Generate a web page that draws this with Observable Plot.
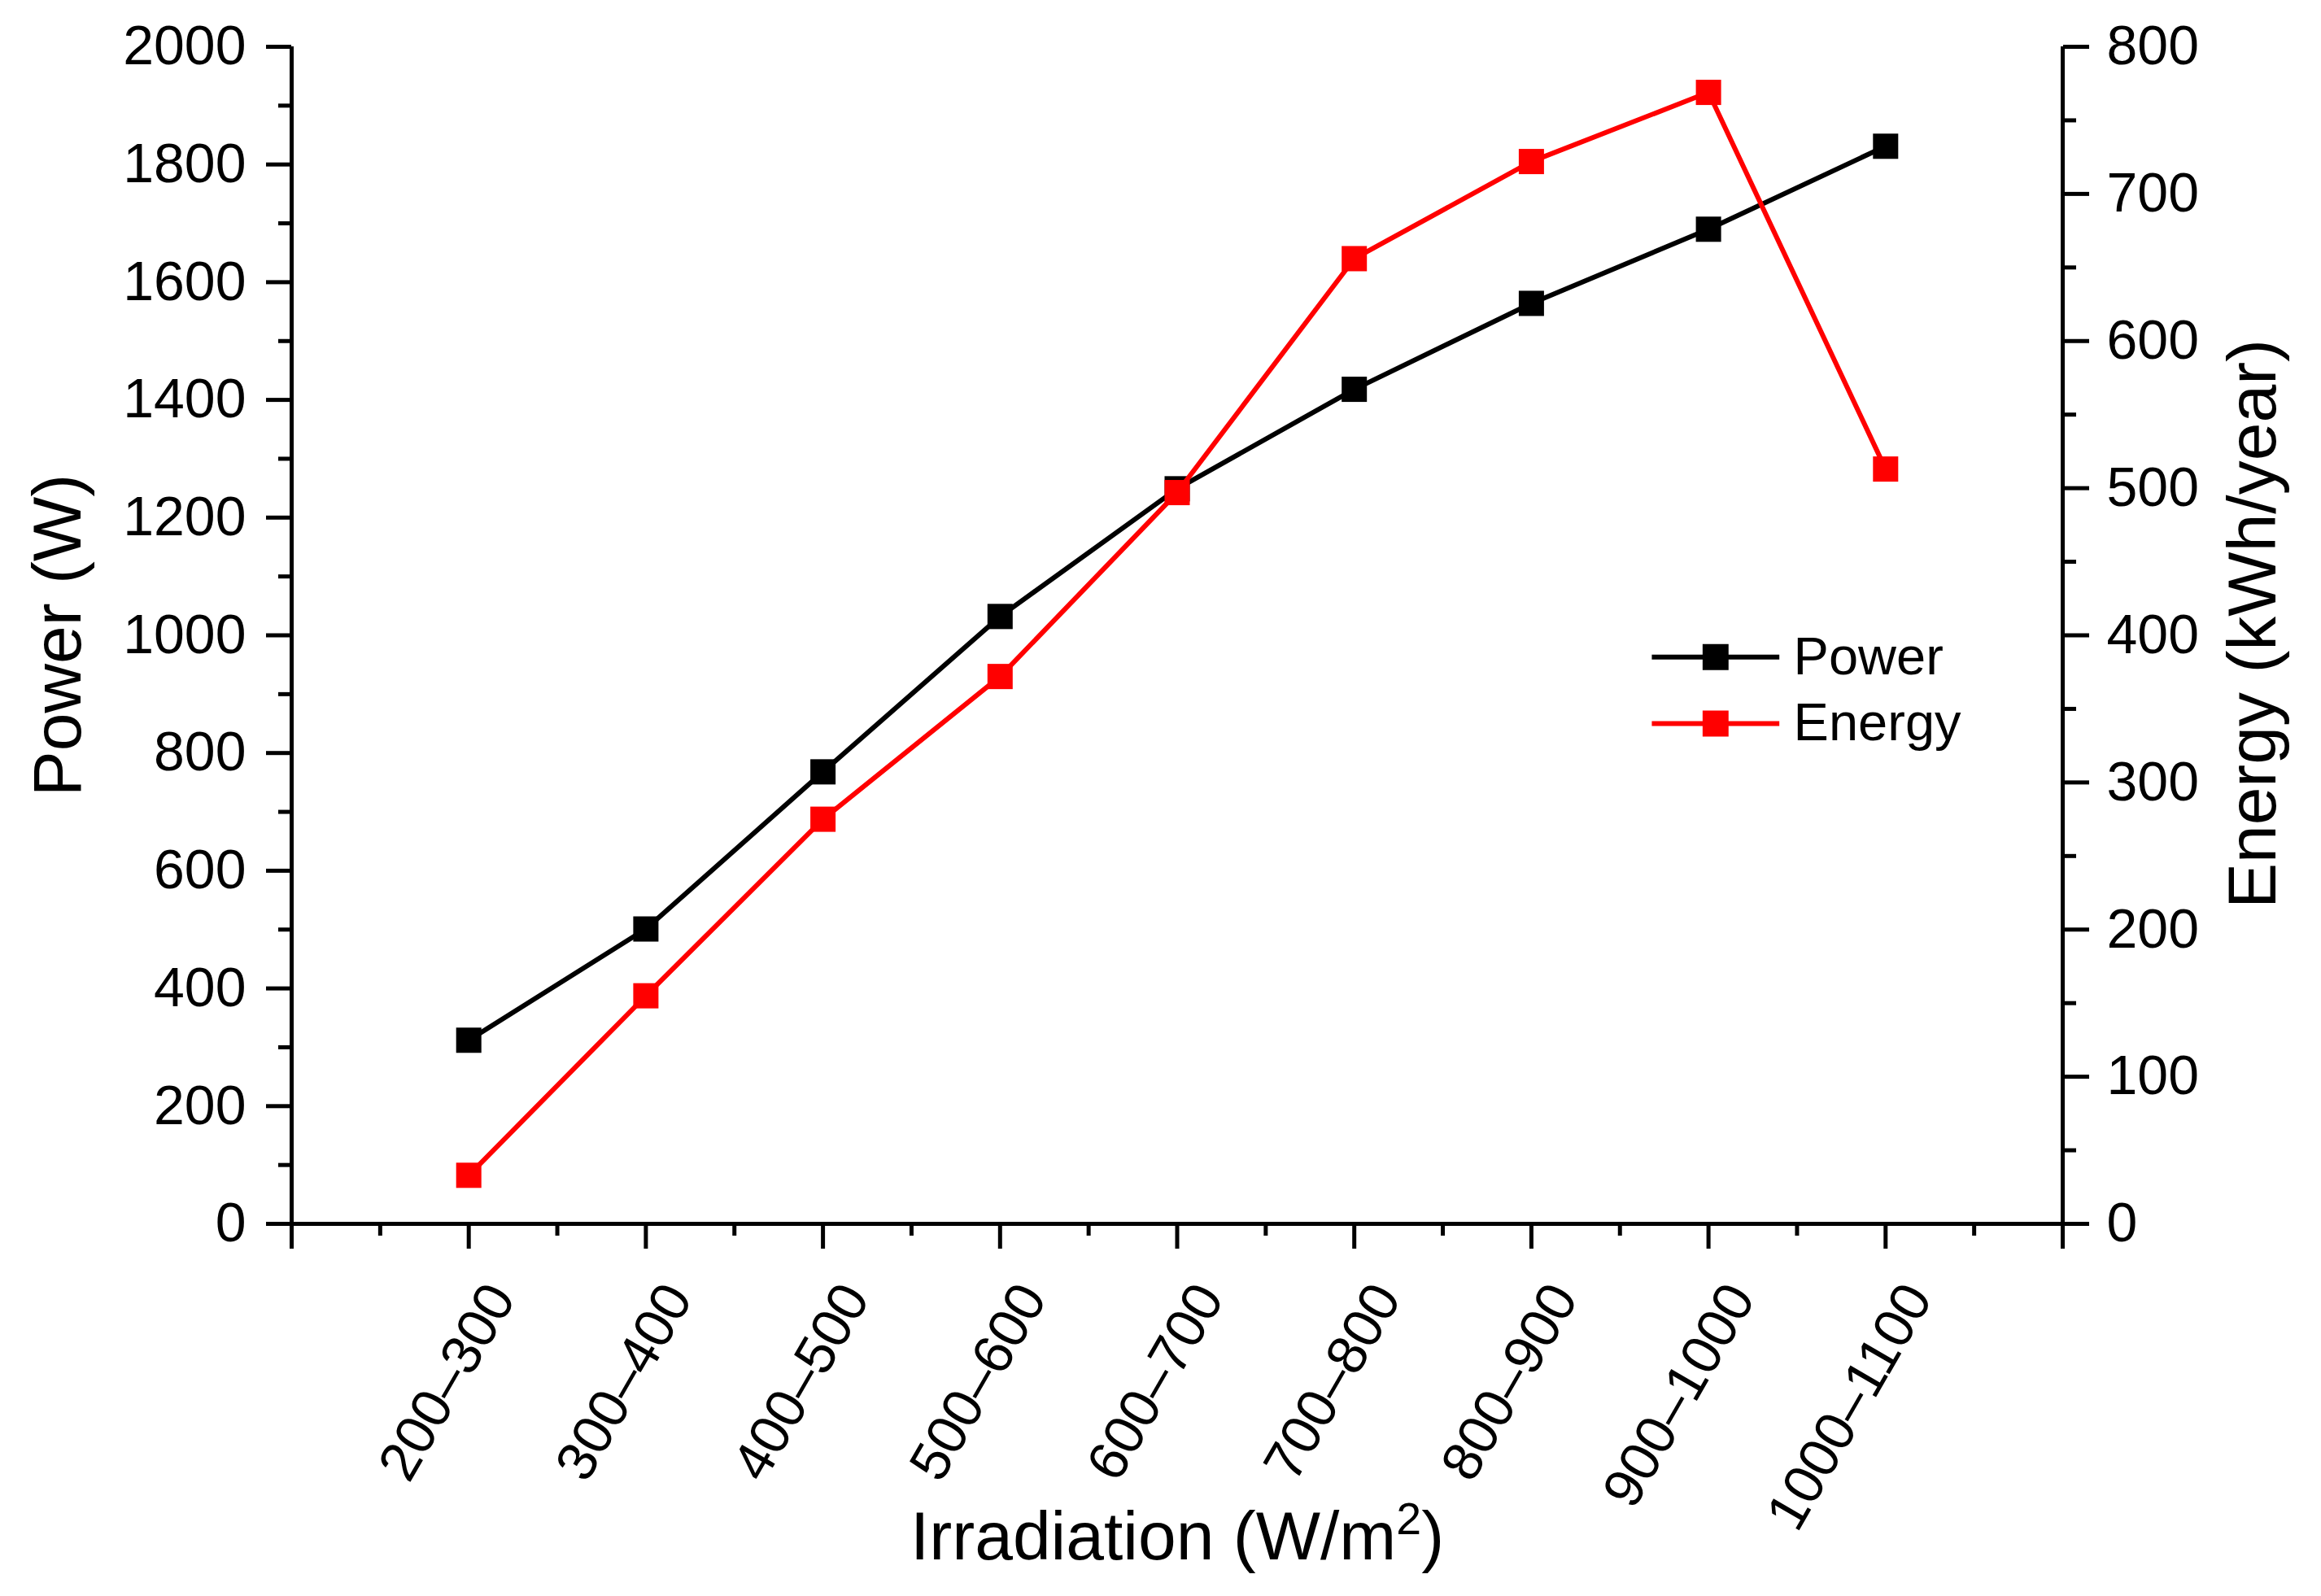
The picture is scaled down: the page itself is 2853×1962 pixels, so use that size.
<!DOCTYPE html>
<html>
<head>
<meta charset="utf-8">
<script src="https://cdn.jsdelivr.net/npm/d3@7"></script>
<script src="https://cdn.jsdelivr.net/npm/@observablehq/plot@0.6"></script>
<style>
  html, body { margin: 0; padding: 0; background: #fff; overflow: hidden; }
  #chart svg { display: block; }
</style>
</head>
<body>
<div id="chart"></div>
<script>
// ---- data ----
const categories = ["200–300", "300–400", "400–500", "500–600", "600–700", "700–800", "800–900", "900–1000", "1000–1100"];
const power = [312, 501, 768, 1032, 1249, 1418, 1564, 1690, 1831];      // W (left axis)
const energy = [33, 155, 275, 372, 497, 656, 722, 769, 513];           // kWh/year (right axis)
const powerTicks = [0, 200, 400, 600, 800, 1000, 1200, 1400, 1600, 1800, 2000];
const energyTicks = [0, 100, 200, 300, 400, 500, 600, 700, 800];

// ---- build table ----
const K = 2000 / 800; // energy -> power scale factor for the secondary axis
const rows = categories.map((c, k) => ({i: k + 1, cat: c, power: power[k], energy: energy[k] * K}));

const FONT = "'Liberation Sans', Arial, Helvetica, sans-serif";
const W = 2853, H = 1962;
const mL = 358, mR = W - 2535, mT = 57, mB = H - 1504;

const xMajor = d3.range(0, 11);
const xMinor = d3.range(0.5, 10, 1);
const yMinor = d3.range(100, 2000, 200);
const eMinor = d3.range(50, 800, 100).map(v => v * K);

const legend = [
  {name: "Power", color: "#000000", y: 963},
  {name: "Energy", color: "#ff0000", y: 850}
];

const TICK_FS = 68;
const TITLE_FS = 84;
const LW = 6;

const chart = Plot.plot({
  width: W,
  height: H,
  marginLeft: mL,
  marginRight: mR,
  marginTop: mT,
  marginBottom: mB,
  style: {fontFamily: FONT, fontSize: "65px", background: "#fff", color: "#000", overflow: "visible"},
  x: {type: "linear", domain: [0, 10]},
  y: {type: "linear", domain: [0, 2000]},
  marks: [
    // axes lines
    Plot.ruleX([0], {stroke: "#000", strokeWidth: 5}),
    Plot.ruleX([10], {stroke: "#000", strokeWidth: 5}),
    Plot.ruleY([0], {stroke: "#000", strokeWidth: 5}),
    // left axis
    Plot.axisY({anchor: "left", ticks: powerTicks, tickSize: 31, tickPadding: 25, strokeWidth: 5, fontSize: TICK_FS, label: null, tickFormat: d => String(d)}),
    Plot.axisY({anchor: "left", ticks: yMinor, tickSize: 16, strokeWidth: 5, label: null, tickFormat: () => ""}),
    // right axis
    Plot.axisY({anchor: "right", ticks: energyTicks.map(v => v * K), tickSize: 32, tickPadding: 22, strokeWidth: 5, fontSize: TICK_FS, label: null, tickFormat: d => String(Math.round(d / K))}),
    Plot.axisY({anchor: "right", ticks: eMinor, tickSize: 16, strokeWidth: 5, label: null, tickFormat: () => ""}),
    // bottom axis ticks
    Plot.axisX({anchor: "bottom", ticks: xMajor, tickSize: 31, strokeWidth: 5, label: null, tickFormat: () => ""}),
    Plot.axisX({anchor: "bottom", ticks: xMinor, tickSize: 15, strokeWidth: 5, label: null, tickFormat: () => ""}),
    // rotated category labels
    Plot.text(rows, {x: "i", frameAnchor: "bottom", text: "cat", rotate: -60, textAnchor: "end", lineAnchor: "middle", dx: 40, dy: 80, fontSize: TICK_FS, fill: "#000"}),
    // series
    Plot.line(rows, {x: "i", y: "power", stroke: "#000000", strokeWidth: LW}),
    Plot.dot(rows, {x: "i", y: "power", symbol: "square", r: 17.5, fill: "#000000", stroke: "none"}),
    Plot.line(rows, {x: "i", y: "energy", stroke: "#ff0000", strokeWidth: LW}),
    Plot.dot(rows, {x: "i", y: "energy", symbol: "square", r: 17.5, fill: "#ff0000", stroke: "none"}),
    // legend
    Plot.link(legend, {x1: () => 7.68, x2: () => 8.40, y1: "y", y2: "y", stroke: "color", strokeWidth: LW}),
    Plot.dot(legend, {x: () => 8.04, y: "y", symbol: "square", r: 18, fill: "color", stroke: "none"}),
    Plot.text(legend, {x: () => 8.48, y: "y", text: "name", textAnchor: "start", lineAnchor: "middle", fontSize: 65, fill: "#000"}),
    // axis titles
    Plot.text(["Irradiation (W/m2)"], {frameAnchor: "bottom", textAnchor: "middle", lineAnchor: "bottom", dy: 412, fontSize: TITLE_FS, fill: "#000", className: "xtitle"}),
    Plot.text(["Power (W)"], {frameAnchor: "left", rotate: -90, textAnchor: "middle", lineAnchor: "middle", dx: -286, fontSize: TITLE_FS, fill: "#000"}),
    Plot.text(["Energy (kWh/year)"], {frameAnchor: "right", rotate: -90, textAnchor: "middle", lineAnchor: "middle", dx: 235, dy: -14, fontSize: TITLE_FS, fill: "#000"})
  ]
});

// superscript "2" in the x-axis title
const NS = "http://www.w3.org/2000/svg";
chart.querySelectorAll("text").forEach(t => {
  if (t.textContent === "Irradiation (W/m2)") {
    t.textContent = "";
    const a = document.createElementNS(NS, "tspan");
    a.textContent = "Irradiation (W/m";
    const s = document.createElementNS(NS, "tspan");
    s.textContent = "2";
    s.setAttribute("font-size", "0.66em");
    s.setAttribute("dy", "-0.55em");
    const b = document.createElementNS(NS, "tspan");
    b.textContent = ")";
    b.setAttribute("dy", "0.363em");
    t.appendChild(a); t.appendChild(s); t.appendChild(b);
  }
});
document.getElementById("chart").appendChild(chart);
</script>
</body>
</html>
